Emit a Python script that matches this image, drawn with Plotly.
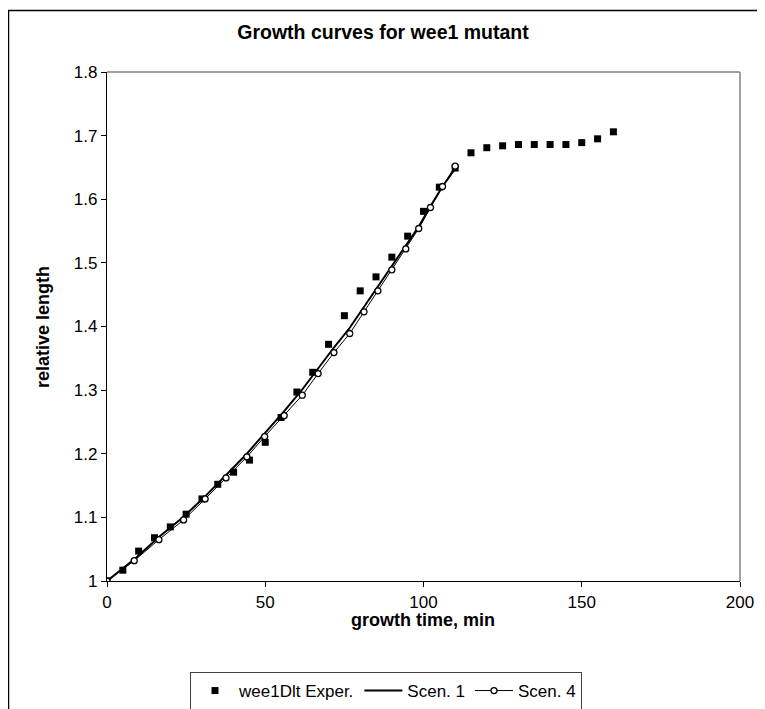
import plotly.graph_objects as go

# Experimental data (wee1Dlt)
exp_time = [0, 5, 10, 15, 20, 25, 30, 35, 40, 45, 50, 55, 60, 65, 70, 75, 80, 85,
            90, 95, 100, 105, 110, 115, 120, 125, 130, 135, 140, 145, 150, 155, 160]
exp_len = [1.000, 1.017, 1.047, 1.068, 1.085, 1.105, 1.129, 1.152, 1.171, 1.190,
           1.218, 1.257, 1.297, 1.328, 1.372, 1.417, 1.456, 1.478, 1.509, 1.542,
           1.581, 1.619, 1.649, 1.673, 1.681, 1.684, 1.686, 1.686, 1.686, 1.686,
           1.689, 1.695, 1.706]

# Simulated scenarios
sim_time = [0, 8.6, 16.4, 24.2, 31, 37.6, 44.2, 49.8, 56, 61.7, 66.7, 71.7,
            76.7, 81.2, 85.6, 90, 94.4, 98.5, 102.2, 106, 110]
scen1_len = [1.000, 1.034, 1.069, 1.101, 1.133, 1.167, 1.200, 1.232, 1.267,
             1.301, 1.334, 1.367, 1.398, 1.431, 1.463, 1.495, 1.526, 1.557,
             1.589, 1.620, 1.648]
scen4_len = [1.000, 1.032, 1.065, 1.096, 1.129, 1.162, 1.195, 1.227, 1.260,
             1.292, 1.326, 1.359, 1.389, 1.423, 1.456, 1.489, 1.522, 1.554,
             1.587, 1.620, 1.652]

x_ticks = [0, 50, 100, 150, 200]
y_ticks = [1.0, 1.1, 1.2, 1.3, 1.4, 1.5, 1.6, 1.7, 1.8]
y_tick_text = ["1", "1.1", "1.2", "1.3", "1.4", "1.5", "1.6", "1.7", "1.8"]

FONT = "Liberation Sans, Arial, sans-serif"

fig = go.Figure()
fig.add_trace(go.Scatter(
    x=exp_time, y=exp_len, mode="markers", name="wee1Dlt Exper.",
    marker=dict(symbol="square", size=7, color="black"),
))
fig.add_trace(go.Scatter(
    x=sim_time, y=scen1_len, mode="lines", name="Scen. 1",
    line=dict(color="black", width=2),
))
fig.add_trace(go.Scatter(
    x=sim_time, y=scen4_len, mode="lines+markers", name="Scen. 4",
    line=dict(color="black", width=1),
    marker=dict(symbol="circle", size=6, color="white",
                line=dict(color="black", width=1.3)),
))

# page offset of the figure (browser body margin)
OFF = 8
W, H = 765 - OFF, 709 - OFF
# plot area in page pixels: left 107, right 740, top 72, bottom 581
L = 107 - OFF
T = 72 - OFF
R = W - (740 - OFF)
B = H - (581 - OFF)
pw = W - L - R
ph = H - T - B

def px_x(p):  # page x -> paper
    return (p - 107) / pw

def px_y(p):  # page y -> paper
    return (581 - p) / ph

fig.update_layout(
    width=W, height=H,
    margin=dict(l=L, r=R, t=T, b=B, autoexpand=False),
    paper_bgcolor="white", plot_bgcolor="white",
    font=dict(family=FONT, color="black", size=17),
    title=dict(text="<b>Growth curves for wee1 mutant</b>",
               x=(383 - OFF) / W, xref="container", xanchor="center",
               y=1 - (32 - OFF) / H, yref="container", yanchor="middle",
               font=dict(size=19.5, family=FONT, color="black")),
    showlegend=True,
    legend=dict(orientation="h", x=px_x(386), xanchor="center",
                y=px_y(672), yanchor="top",
                bordercolor="#404040", borderwidth=1,
                font=dict(size=17, family=FONT, color="black"),
                bgcolor="white", itemwidth=38),
    xaxis=dict(range=[0, 200], tickvals=x_ticks, showgrid=False, zeroline=False,
               showline=True, linecolor="black", linewidth=1.2,
               ticks="outside", ticklen=5, tickcolor="black",
               tickfont=dict(size=17)),
    yaxis=dict(range=[1.0, 1.8], tickvals=y_ticks, ticktext=y_tick_text,
               showgrid=False, zeroline=False,
               showline=True, linecolor="black", linewidth=1.2,
               ticks="outside", ticklen=5, tickcolor="black",
               tickfont=dict(size=17)),
    annotations=[
        dict(text="<b>growth time, min</b>", xref="paper", yref="paper",
             x=px_x(423), y=px_y(620), xanchor="center", yanchor="middle",
             showarrow=False, font=dict(size=18, family=FONT)),
        dict(text="<b>relative length</b>", xref="paper", yref="paper",
             x=px_x(43), y=px_y(327), xanchor="center", yanchor="middle",
             textangle=-90, showarrow=False, font=dict(size=18, family=FONT)),
    ],
    shapes=[
        # gray plot-area frame (top and right)
        dict(type="line", xref="paper", yref="paper", x0=0, y0=1, x1=1, y1=1,
             line=dict(color="#808080", width=1.5)),
        dict(type="line", xref="paper", yref="paper", x0=1, y0=0, x1=1, y1=1,
             line=dict(color="#808080", width=1.5)),
        # outer chart border (extends past right/bottom of the page)
        dict(type="rect", xref="paper", yref="paper",
             x0=px_x(8.5), y0=px_y(740), x1=px_x(800), y1=px_y(10.5),
             line=dict(color="black", width=1.5), layer="below"),
    ],
)

fig.write_html("out.html")
